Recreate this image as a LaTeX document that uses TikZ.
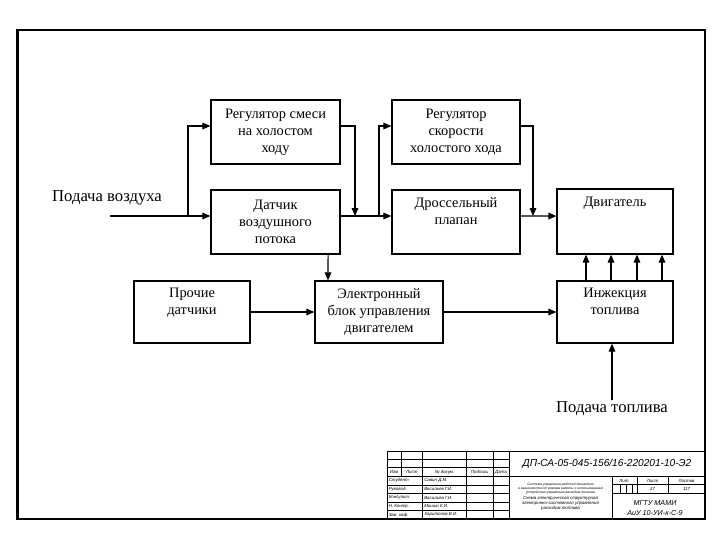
\documentclass[tikz,border=0pt]{standalone}
\usepackage{fontspec}
\setmainfont{Liberation Serif}
\newfontfamily\tbsans{Liberation Sans}
\usetikzlibrary{arrows.meta}
\begin{document}
\begin{tikzpicture}[x=0.75pt,y=-0.75pt,
  blk/.style={draw,line width=0.9pt,inner sep=0pt,align=center,font=\fontsize{10.8}{12.8}\selectfont},
  arr/.style={line width=0.8pt,-{Triangle[length=6pt,width=5pt]}},
  big/.style={font=\fontsize{12.5}{14}\selectfont,inner sep=1pt},
  tb/.style={line width=0.7pt},
  tt/.style={font=\tbsans\itshape\fontsize{3.3}{3.6}\selectfont,inner sep=0pt},
  ts/.style={font=\tbsans\itshape\fontsize{2.5}{3.1}\selectfont,inner sep=0pt,align=center},
  tm/.style={font=\tbsans\itshape\fontsize{3.3}{3.6}\selectfont,inner sep=0pt,align=center}]
\useasboundingbox (0,0) rectangle (720,540);

% frame
\draw[line width=2pt] (17.5,30) rectangle (705,519);

% blocks
\node[blk,minimum width=96.75pt,minimum height=48pt] (rs) at (275.5,132) {Регулятор смеси\\на холостом\\ходу};
\node[blk,minimum width=96.75pt,minimum height=48pt] (dat) at (275.5,222) {Датчик\\воздушного\\потока};
\node[blk,minimum width=96pt,minimum height=48pt] (rsk) at (456,132) {Регулятор\\скорости\\холостого хода};
\node[blk,minimum width=96pt,minimum height=48pt] (dros) at (456,222) {Дроссельный\\плапан\\\strut};
\node[blk,minimum width=87pt,minimum height=48.75pt] (dv) at (615,221.5) {Двигатель\\\strut\\\strut};
\node[blk,minimum width=87pt,minimum height=46.5pt] (pr) at (192,312) {Прочие\\датчики\\\strut};
\node[blk,minimum width=96pt,minimum height=46.5pt] (ebu) at (379,312) {Электронный\\блок управления\\двигателем};
\node[blk,minimum width=87pt,minimum height=46.5pt] (inj) at (615,312) {Инжекция\\топлива\\\strut};

\node[big] (pv) at (107,198) {Подача воздуха};
\node[big] (pt) at (612,409) {Подача топлива};

\coordinate (a0) at (110,216);
\coordinate (b1) at (188,216);
\coordinate (c1) at (355,216);
\coordinate (b2) at (379,216);
\coordinate (c2) at (533,216);

\draw[arr] (a0) -- ([yshift=4.5pt]dat.west);
\draw[arr] (b1) |- ([yshift=4.5pt]rs.west);
\draw[arr] ([yshift=4.5pt]rs.east) -| (c1);
\draw[arr] ([yshift=4.5pt]dat.east) -- ([yshift=4.5pt]dros.west);
\draw[arr] (b2) |- ([yshift=4.5pt]rsk.west);
\draw[arr] ([yshift=4.5pt]rsk.east) -| (c2);
\draw[arr] ([yshift=4.5pt]dros.east) -- ([yshift=4.1pt]dv.west);
\draw[arr] ([xshift=39.4pt]dat.south) -- ([xshift=-38.25pt]ebu.north);
\draw[arr] (pr.east) -- (ebu.west);
\draw[arr] (ebu.east) -- (inj.west);
\foreach \s in {-21.75,-3,16.5,35.25}
  \draw[arr] ([xshift=\s pt]inj.north) -- ([xshift=\s pt]dv.south);
\draw[arr] (pt.north) -- ([xshift=-2.25pt]inj.south);

% title block
\draw[tb] (387,451) -- (705,451);
\draw[tb] (387,451) -- (387,519);
\foreach \y in {459.4,467.7,476.5,485,493.6,502.1,510.7}
  \draw[tb] (387,\y) -- (509,\y);
\draw[tb] (401,451) -- (401,476.5);
\foreach \x in {422.5,466.5,493,509}
  \draw[tb] (\x,451) -- (\x,519);
\draw[tb] (509,476.5) -- (705,476.5);
\draw[tb] (612,476.5) -- (612,519);
\draw[tb] (612,484.5) -- (705,484.5);
\draw[tb] (612,493) -- (705,493);
\draw[tb] (637,476.5) -- (637,493);
\draw[tb] (668,476.5) -- (668,493);
\foreach \x in {620,626,632}
  \draw[tb] (\x,484.5) -- (\x,493);

\node[tt] at (394,472) {Изм};
\node[tt] at (411.75,472) {Лист};
\node[tt] at (444.5,472) {№ докум.};
\node[tt] at (479.75,472) {Подпись};
\node[tt] at (501,472) {Дата};

\node[tt,anchor=west] at (388.5,480.75) {Студент};
\node[tt,anchor=west] at (388.5,489.3) {Руковод.};
\node[tt,anchor=west] at (388.5,497.85) {Консульт.};
\node[tt,anchor=west] at (388.5,506.4) {Н. Контр.};
\node[tt,anchor=west] at (388.5,514.85) {Зав. каф.};
\node[tt,anchor=west] at (424,480.75) {Савин Д.М.};
\node[tt,anchor=west] at (424,489.3) {Васильев Г.И.};
\node[tt,anchor=west] at (424,497.85) {Васильев Г.И.};
\node[tt,anchor=west] at (424,506.4) {Мишин К.И.};
\node[tt,anchor=west] at (424,514.85) {Харитонов В.И.};

\node[font=\tbsans\itshape\fontsize{7.6}{8}\selectfont,inner sep=0pt] at (607,464) {ДП-СА-05-045-156/16-220201-10-Э2};

\node[ts] at (560.5,488.8) {Система управления работой двигателя\\в зависимости от режима работы с использованием\\устройства управления расходом топлива};
\node[tm] at (560.5,503.3) {Схема электрическая структурная\\электронно-системного управления\\расходом топлива};

\node[tt] at (624.5,480.5) {Лит.};
\node[tt] at (652.5,480.5) {Лист};
\node[tt] at (686.5,480.5) {Листов};
\node[tt] at (652.5,488.8) {27};
\node[tt] at (686.5,488.8) {117};

\node[font=\tbsans\itshape\fontsize{5.4}{6}\selectfont,inner sep=0pt] at (655,502.7) {МГТУ МАМИ};
\node[font=\tbsans\itshape\fontsize{5.4}{6}\selectfont,inner sep=0pt] at (655,512.7) {АиУ 10-УИ-к-С-9};
\end{tikzpicture}
\end{document}
